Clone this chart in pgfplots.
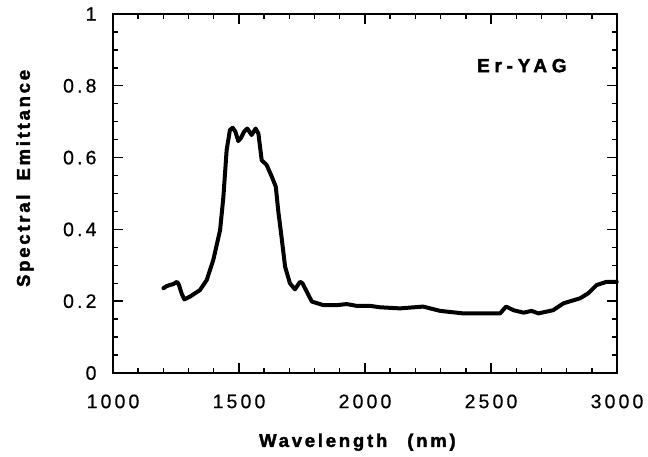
\documentclass[border=0pt]{standalone}
\usepackage{fontspec}
\usepackage{pgfplots}
\pgfplotsset{compat=1.18}
\setmainfont{Liberation Sans}
\newfontfamily\tickfont[LetterSpace=16, FakeBold=0.6]{Liberation Sans}
\newfontfamily\labfont[LetterSpace=15, BoldFeatures={FakeBold=2}]{Liberation Sans}
\newfontfamily\tagfont[LetterSpace=25, BoldFeatures={FakeBold=2}]{Liberation Sans}

\begin{document}
\begin{tikzpicture}
% page frame
\path (-113pt,-84pt) rectangle (535pt,373pt);
\begin{axis}[
  scale only axis,
  width=504pt, height=359pt,
  at={(0,0)}, anchor=south west,
  xmin=1000, xmax=3000, ymin=0, ymax=1,
  xtick={1000,1500,2000,2500,3000},
  ytick={0,0.2,0.4,0.6,0.8,1},
  minor x tick num=4,
  minor y tick num=3,
  tick align=inside,
  major tick length=10pt,
  minor tick length=5pt,
  every tick/.style={line width=1.4pt, black},
  axis line style={line width=1.8pt},
  /pgf/number format/assume math mode=true,
  /pgf/number format/1000 sep={},
  tick label style={font=\tickfont\fontsize{19.5}{22}\selectfont},
  xticklabel style={yshift=-18pt},
  yticklabel style={xshift=-13pt},
  xlabel={Wavelength\hspace{20pt}(nm)},
  ylabel={Spectral\hspace{14pt}Emittance},
  label style={font=\labfont\bfseries\fontsize{18.5}{22}\selectfont},
  xlabel style={at={(axis description cs:0.485,-0.206)}, anchor=base},
  ylabel style={at={(axis description cs:-0.165,0.542)}, rotate=0, anchor=base},
  clip=false,
]
\addplot[black, line width=4pt, line join=round, line cap=round] table {
1200 0.236
1213 0.242
1226 0.245
1240 0.248
1254 0.254
1262 0.245
1272 0.222
1283 0.205
1306 0.213
1345 0.231
1372 0.259
1398 0.315
1425 0.398
1438 0.490
1451 0.621
1464 0.677
1475 0.683
1486 0.672
1497 0.646
1508 0.655
1520 0.672
1533 0.681
1550 0.663
1566 0.681
1577 0.667
1590 0.593
1610 0.579
1630 0.547
1646 0.519
1656 0.450
1667 0.389
1683 0.296
1702 0.250
1722 0.233
1742 0.254
1752 0.250
1762 0.236
1789 0.199
1835 0.189
1888 0.189
1927 0.192
1967 0.187
2020 0.187
2060 0.183
2139 0.180
2231 0.185
2298 0.173
2390 0.166
2536 0.166
2560 0.185
2589 0.175
2629 0.168
2661 0.173
2688 0.166
2747 0.175
2787 0.194
2853 0.208
2886 0.222
2919 0.245
2959 0.254
2999 0.254
};
\node[anchor=base west, inner sep=0pt, font=\tagfont\bfseries\fontsize{19}{22}\selectfont]
  at (axis cs:2444,0.838) {Er-YAG};
\end{axis}
\end{tikzpicture}
\end{document}
